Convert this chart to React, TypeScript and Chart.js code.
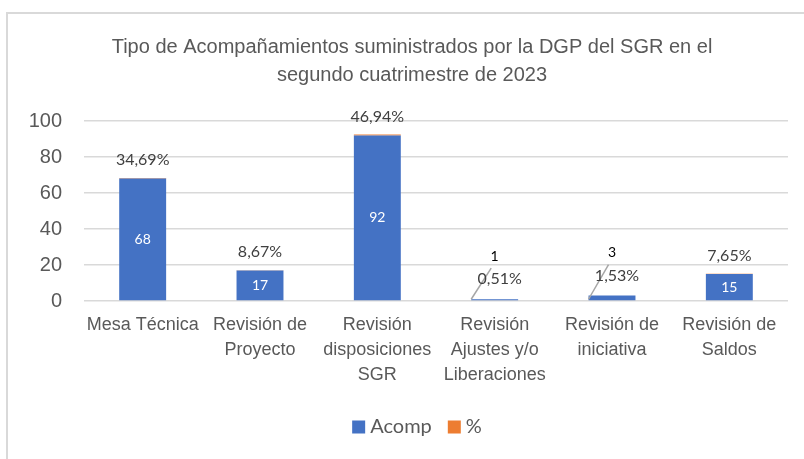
import React, { useEffect, useRef } from "react";
import { Chart, registerables } from "chart.js";

Chart.register(...registerables);

const categories: string[][] = [
  ["Mesa Técnica"],
  ["Revisión de", "Proyecto"],
  ["Revisión", "disposiciones", "SGR"],
  ["Revisión", "Ajustes y/o", "Liberaciones"],
  ["Revisión de", "iniciativa"],
  ["Revisión de", "Saldos"],
];
const acompValues: number[] = [68, 17, 92, 1, 3, 15];
const pctValues: number[] = [0.3469, 0.0867, 0.4694, 0.0051, 0.0153, 0.0765];
const yTicks: number[] = [0, 20, 40, 60, 80, 100];
const titleLines: string[] = [
  "Tipo de Acompañamientos suministrados por la DGP del SGR en el",
  "segundo cuatrimestre de 2023",
];

const BLUE = "#4472C4";
const ORANGE = "#ED7D31";
const GRAY_TEXT = "#595959";
const GRID = "#D9D9D9";

const fmtPct = (v: number) => (v * 100).toFixed(2).replace(".", ",") + "%";

const decorPlugin = {
  id: "decor",
  beforeDraw(chart: any) {
    const ctx = chart.ctx;
    ctx.save();
    ctx.fillStyle = "#FFFFFF";
    ctx.fillRect(0, 0, chart.width, chart.height);
    // frame
    ctx.strokeStyle = GRID;
    ctx.lineWidth = 2;
    ctx.beginPath();
    ctx.moveTo(7, chart.height);
    ctx.lineTo(7, 13);
    ctx.lineTo(chart.width, 13);
    ctx.stroke();
    // title
    ctx.fillStyle = GRAY_TEXT;
    ctx.font = '20px "Liberation Sans", Arial, sans-serif';
    ctx.textAlign = "center";
    ctx.textBaseline = "middle";
    const cx = chart.width / 2 + 10;
    titleLines.forEach((t, i) => ctx.fillText(t, cx, 47 + i * 28));
    ctx.restore();
  },
  afterDatasetsDraw(chart: any) {
    const ctx = chart.ctx;
    const m0 = chart.getDatasetMeta(0);
    const m1 = chart.getDatasetMeta(1);
    ctx.save();
    ctx.textAlign = "center";
    ctx.textBaseline = "middle";
    acompValues.forEach((v, i) => {
      const b0 = m0.data[i];
      const b1 = m1.data[i];
      const x = b0.x;
      const top = b1.y;
      const base = b0.base;
      const w = b0.width;
      if (v >= 10) {
        ctx.fillStyle = "#FFFFFF";
        ctx.font = '14px Lato, "Noto Sans", sans-serif';
        ctx.fillText(String(v), x, (b0.y + base) / 2);
        ctx.fillStyle = "#404040";
        ctx.font = '16px Lato, "Noto Sans", sans-serif';
        ctx.fillText(fmtPct(pctValues[i]), x, top - 18);
      } else {
        ctx.strokeStyle = "#A6A6A6";
        ctx.lineWidth = 1.5;
        ctx.beginPath();
        ctx.moveTo(x - w / 2, base - 1);
        ctx.lineTo(x - w / 2 + 20, top - 31);
        ctx.stroke();
        ctx.fillStyle = "#404040";
        ctx.font = '16px Lato, "Noto Sans", sans-serif';
        ctx.fillText(fmtPct(pctValues[i]), x + 5, top - 20);
        ctx.fillStyle = "#000000";
        ctx.font = '14px Lato, "Noto Sans", sans-serif';
        ctx.fillText(String(v), x, top - 43);
      }
    });
    ctx.restore();
  },
  afterDraw(chart: any) {
    const ctx = chart.ctx;
    ctx.save();
    ctx.font = '20px Lato, "Noto Sans", sans-serif';
    ctx.textBaseline = "middle";
    ctx.textAlign = "left";
    const box = 13;
    const gapBoxText = 5;
    const gapItems = 16;
    const items = chart.data.datasets.map((d: any) => ({
      label: d.label,
      color: d.backgroundColor,
      w: ctx.measureText(d.label).width,
    }));
    const total = items.reduce(
      (s: number, it: any, idx: number) =>
        s + box + gapBoxText + it.w + (idx > 0 ? gapItems : 0),
      0
    );
    let x = 417 - total / 2;
    const y = 427;
    items.forEach((it: any) => {
      ctx.fillStyle = it.color;
      ctx.fillRect(x, y - box / 2, box, box);
      x += box + gapBoxText;
      ctx.fillStyle = GRAY_TEXT;
      ctx.fillText(it.label, x, y);
      x += it.w + gapItems;
    });
    ctx.restore();
  },
};

export default function App() {
  const ref = useRef<HTMLCanvasElement | null>(null);
  useEffect(() => {
    document.body.style.margin = "0";
    if (!ref.current) return;
    const chart = new Chart(ref.current, {
      type: "bar",
      data: {
        labels: categories,
        datasets: [
          {
            label: "Acomp",
            data: acompValues,
            backgroundColor: BLUE,
            stack: "s",
            barPercentage: 0.4,
            categoryPercentage: 1,
          },
          {
            label: "%",
            data: pctValues,
            backgroundColor: ORANGE,
            stack: "s",
            barPercentage: 0.4,
            categoryPercentage: 1,
          },
        ],
      },
      options: {
        animation: false,
        responsive: true,
        maintainAspectRatio: false,
        layout: { padding: { top: 121, right: 16, left: 0, bottom: 58 } },
        plugins: {
          legend: { display: false },
          title: { display: false },
          tooltip: { enabled: false },
        },
        scales: {
          x: {
            stacked: true,
            grid: { display: false, drawTicks: false },
            border: { display: false },
            ticks: {
              color: GRAY_TEXT,
              font: { family: '"Liberation Sans", Arial, sans-serif', size: 18, lineHeight: 1.37 },
              padding: 12,
              maxRotation: 0,
              autoSkip: false,
            },
            afterFit: (s: any) => {
              s.height = 100;
            },
          },
          y: {
            stacked: true,
            min: 0,
            max: 100,
            afterBuildTicks: (s: any) => {
              s.ticks = yTicks.map((v) => ({ value: v }));
            },
            grid: { color: GRID, lineWidth: 1.5, drawTicks: false },
            border: { display: false },
            ticks: {
              color: GRAY_TEXT,
              font: { family: '"Liberation Sans", Arial, sans-serif', size: 20 },
              padding: 22,
            },
            afterFit: (s: any) => {
              s.width = 84;
            },
          },
        },
      },
      plugins: [decorPlugin],
    });
    return () => chart.destroy();
  }, []);
  return (
    <div style={{ width: 804, height: 459, position: "relative" }}>
      <canvas ref={ref} />
    </div>
  );
}
